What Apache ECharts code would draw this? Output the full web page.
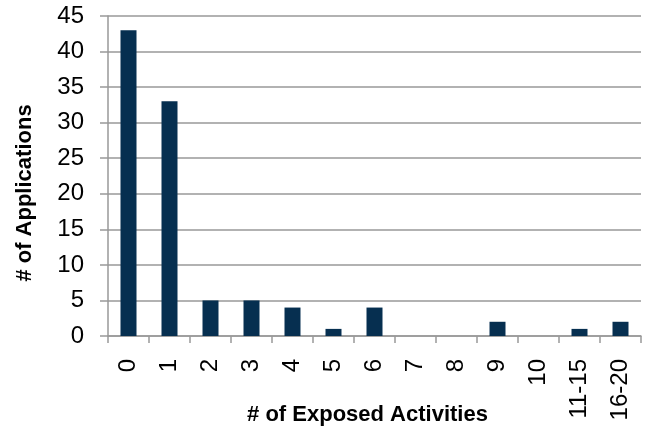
<!DOCTYPE html>
<html>
<head>
<meta charset="utf-8">
<script src="https://cdn.jsdelivr.net/npm/echarts@6/dist/echarts.min.js"></script>
<style>
html,body{margin:0;padding:0;background:#fff;}
#chart{width:647px;height:428px;}
</style>
</head>
<body>
<div id="chart"></div>
<script>
// exposed activities per app
var categories = ['0','1','2','3','4','5','6','7','8','9','10','11-15','16-20'];
var counts = [43, 33, 5, 5, 4, 1, 4, 0, 0, 2, 0, 1, 2];

var font = 'Helvetica, Arial, "Liberation Sans", sans-serif';
var myChart = echarts.init(document.getElementById('chart'));

option = {
    animation: false,
    grid: { left: 108, right: 6, top: 16, bottom: 92, outerBoundsMode: 'none', containLabel: false },
    xAxis: {
        type: 'category',
        data: categories,
        name: '# of Exposed Activities',
        nameLocation: 'middle',
        nameGap: 68,
        nameMoveOverlap: false,
        nameTextStyle: { fontFamily: font, fontSize: 22, fontWeight: 'bold', color: '#000', padding: [0, 14, 0, 0] },
        axisLine: { lineStyle: { color: '#999', width: 1.5 } },
        axisTick: { show: true, length: 7, lineStyle: { color: '#999', width: 1.5 } },
        axisLabel: { rotate: 90, margin: 23, fontFamily: font, fontSize: 24, color: '#000' }
    },
    yAxis: {
        type: 'value',
        min: 0,
        max: 45,
        interval: 5,
        name: '# of Applications',
        nameLocation: 'middle',
        nameGap: 72,
        nameMoveOverlap: false,
        nameTextStyle: { fontFamily: font, fontSize: 22, fontWeight: 'bold', color: '#000', padding: [0, 34, 0, 0] },
        axisLine: { show: true, lineStyle: { color: '#999', width: 1.5 } },
        axisTick: { show: true, length: 8, lineStyle: { color: '#999', width: 1.5 } },
        splitLine: { lineStyle: { color: '#999', width: 1.5 } },
        axisLabel: { margin: 24, fontFamily: font, fontSize: 24, color: '#000' }
    },
    series: [{
        type: 'bar',
        data: counts,
        barWidth: 16,
        itemStyle: { color: '#062f50' }
    }]
};
myChart.setOption(option);
</script>
</body>
</html>
